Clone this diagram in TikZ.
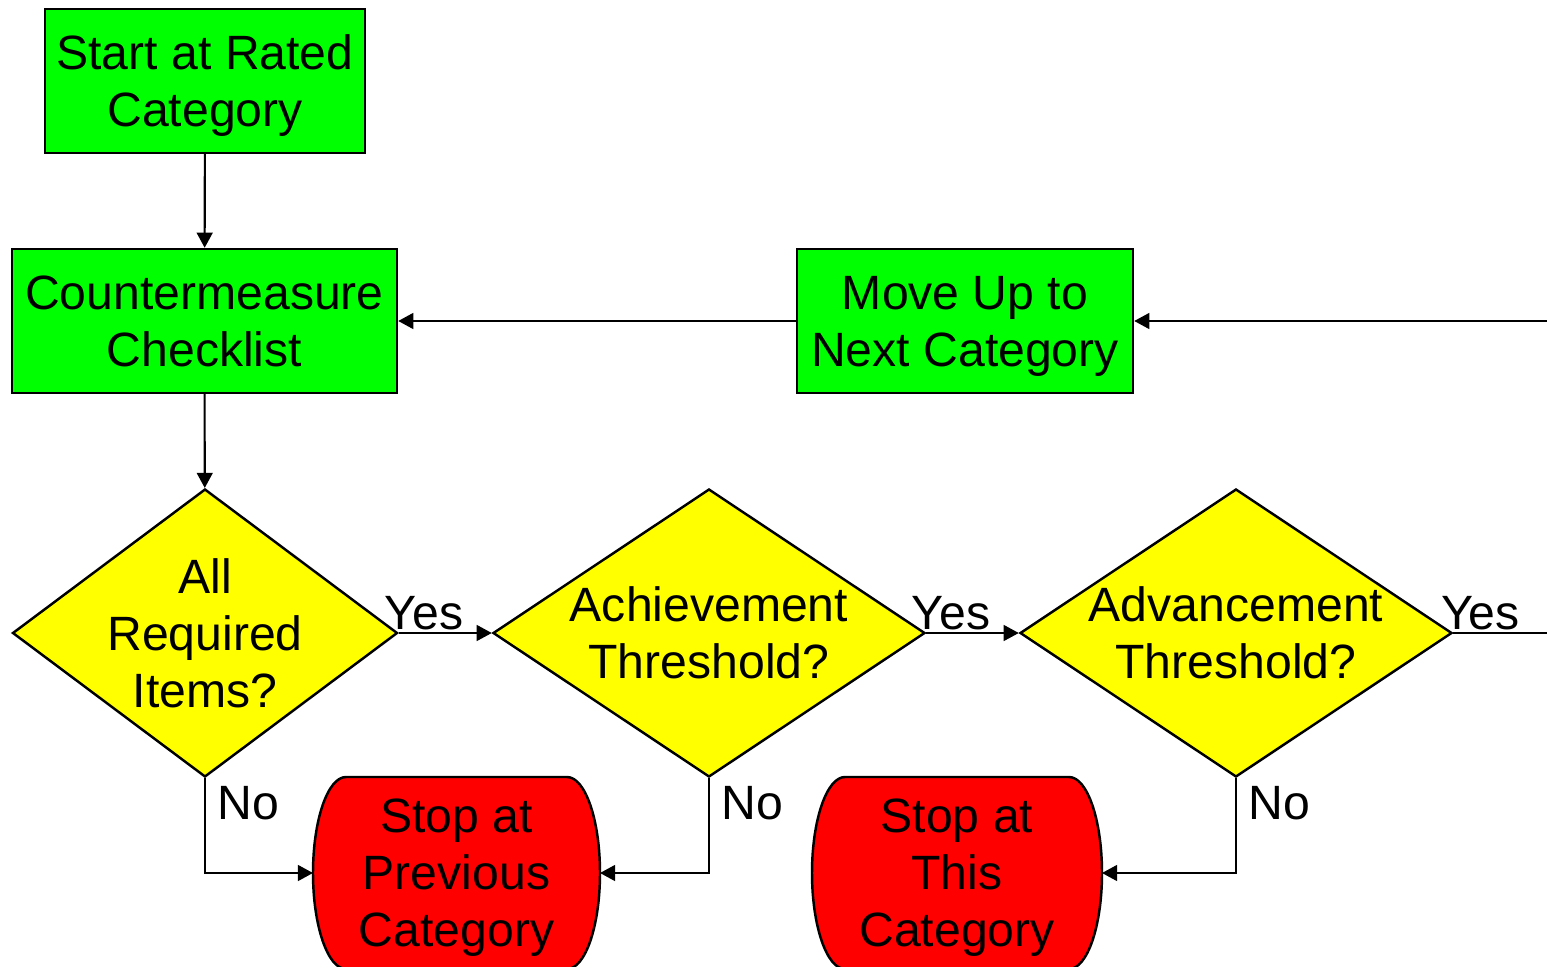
\documentclass[tikz,border=0pt]{standalone}
\usepackage{fontspec}
\setmainfont{Liberation Sans}
\usepackage{xcolor}
\usepackage{tikz}
\usetikzlibrary{shapes.geometric, arrows.meta, positioning, backgrounds}

\definecolor{boxgreen}{HTML}{00FF00}
\definecolor{dyellow}{HTML}{FFFF00}
\definecolor{stopred}{HTML}{FF0000}

\tikzset{
  stepbox/.style={rectangle, draw, line width=0.7pt, fill=boxgreen, align=center, minimum height=1.44cm, text depth=0pt},
  decision/.style={diamond, draw, line width=0.7pt, fill=dyellow, minimum height=2.88cm, inner sep=0pt},
  stopnode/.style={rectangle, align=center, minimum height=1.92cm, text depth=0pt, outer sep=0pt},
  stopline/.style={draw, line width=0.7pt, fill=stopred, line join=round},
  flow/.style={line width=0.6pt, -{Triangle[length=4.3pt, width=4.5pt]}},
  answer/.style={inner sep=0.5pt}
}

\begin{document}
\begin{tikzpicture}[font=\fontsize{13.7}{16.2}\selectfont]
  \useasboundingbox (0,0) rectangle (15.47,-9.67);
  \node[stepbox, minimum width=3.20cm] (start) at (2.05,-0.81) {Start at Rated\\Category};
  \node[stepbox, minimum width=3.85cm] (check) at (2.045,-3.21) {Countermeasure\\Checklist};
  \node[stepbox, minimum width=3.36cm] (moveup) at (9.65,-3.21) {Move Up to\\Next Category};
  \node[decision, minimum width=3.85cm, label={[name=reqtext, align=center]center:All\\Required\\Items?}] (req) at (2.05,-6.33) {};
  \node[decision, minimum width=4.32cm, label={[name=achtext, align=center]center:Achievement\\Threshold?}] (ach) at (7.09,-6.33) {};
  \node[decision, minimum width=4.32cm, label={[name=advtext, align=center]center:Advancement\\Threshold?}] (adv) at (12.36,-6.33) {};
  \node[stopnode, minimum width=2.87cm] (stopprev) at (4.565,-8.73) {Stop at\\Previous\\Category};
  \node[stopnode, minimum width=2.90cm] (stopthis) at (9.57,-8.73) {Stop at\\This\\Category};
  \coordinate (outyes) at (15.47,-6.33);
  \coordinate (inmove) at (15.47,-3.21);

  % terminator outlines behind the text
  \begin{scope}[on background layer]
    \foreach \n in {stopprev, stopthis}
      \path[stopline] (\n.west)
        arc[start angle=180, end angle=90, x radius=0.33cm, y radius=0.96cm]
        -- ([xshift=-0.33cm]\n.north east)
        arc[start angle=90, end angle=-90, x radius=0.33cm, y radius=0.96cm]
        -- ([xshift=0.33cm]\n.south west)
        arc[start angle=270, end angle=180, x radius=0.33cm, y radius=0.96cm] -- cycle;
  \end{scope}

  \draw[flow] (start) -- (check);
  \draw[flow] (check) -- (req);
  \draw[flow] (req.east) -- (ach.west) node[answer, pos=0.27, above] {Yes};
  \draw[flow] (ach.east) -- (adv.west) node[answer, pos=0.27, above] {Yes};
  \draw[line width=0.6pt] (adv.east) -- (outyes) node[answer, pos=0.29, above] {Yes};
  \draw[flow] (inmove) -- (moveup.east);
  \draw[flow] (moveup.west) -- (check.east);
  \draw[flow] (req.south) |- (stopprev.west) node[pos=0.13, right] {No};
  \draw[flow] (ach.south) |- (stopprev.east) node[pos=0.13, right] {No};
  \draw[flow] (adv.south) |- (stopthis.east) node[pos=0.13, right] {No};
\end{tikzpicture}
\end{document}
